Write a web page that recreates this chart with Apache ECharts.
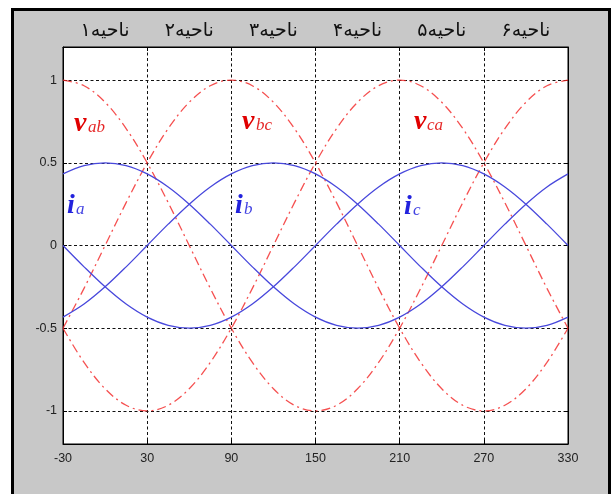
<!DOCTYPE html>
<html>
<head>
<meta charset="utf-8">
<script src="https://cdn.jsdelivr.net/npm/echarts@6/dist/echarts.min.js"></script>
<style>
  html, body { margin: 0; padding: 0; background: #fff; }
  #frame { position: absolute; left: 11px; top: 8px; width: 594px; height: 500px;
           background: #c8c8c8; border: 3px solid #000; border-bottom: none; }
  #chart { position: absolute; left: 0; top: 0; width: 616px; height: 494px; }
</style>
</head>
<body>
<div id="frame"></div>
<div id="chart"></div>
<script>
// angle (degrees)
const angles = [-30,-15,0,15,30,45,60,75,90,105,120,135,150,165,180,195,210,225,240,255,270,285,300,315,330];
// line voltages
const vab = [1,0.966,0.866,0.707,0.5,0.259,0,-0.259,-0.5,-0.707,-0.866,-0.966,-1,-0.966,-0.866,-0.707,-0.5,-0.259,0,0.259,0.5,0.707,0.866,0.966,1];
const vbc = [-0.5,-0.259,0,0.259,0.5,0.707,0.866,0.966,1,0.966,0.866,0.707,0.5,0.259,0,-0.259,-0.5,-0.707,-0.866,-0.966,-1,-0.966,-0.866,-0.707,-0.5];
const vca = [-0.5,-0.707,-0.866,-0.966,-1,-0.966,-0.866,-0.707,-0.5,-0.259,0,0.259,0.5,0.707,0.866,0.966,1,0.966,0.866,0.707,0.5,0.259,0,-0.259,-0.5];
// phase currents
const ia = [0.433,0.483,0.5,0.483,0.433,0.354,0.25,0.129,0,-0.129,-0.25,-0.354,-0.433,-0.483,-0.5,-0.483,-0.433,-0.354,-0.25,-0.129,0,0.129,0.25,0.354,0.433];
const ib = [-0.433,-0.354,-0.25,-0.129,0,0.129,0.25,0.354,0.433,0.483,0.5,0.483,0.433,0.354,0.25,0.129,0,-0.129,-0.25,-0.354,-0.433,-0.483,-0.5,-0.483,-0.433];
const ic = [0,-0.129,-0.25,-0.354,-0.433,-0.483,-0.5,-0.483,-0.433,-0.354,-0.25,-0.129,0,0.129,0.25,0.354,0.433,0.483,0.5,0.483,0.433,0.354,0.25,0.129,0];
// ticks
const xTicks = [-30,30,90,150,210,270,330];
const yTicks = [-1,-0.5,0,0.5,1];
// region labels (centres of each 60° interval)
const regionNames = ['ناحیه۱','ناحیه۲','ناحیه۳','ناحیه۴','ناحیه۵','ناحیه۶'];
const regionCentres = [0,60,120,180,240,300];

const pair = (ys) => angles.map((a, i) => [a, ys[i]]);

const RED = '#f22424', BLUE = '#4848dc';
const gridLine = { show: true, lineStyle: { color: '#111', width: 1, type: [3, 2.5] } };
const axisFont = { fontFamily: 'Liberation Sans, Arial, sans-serif', fontSize: 12.5, color: '#222' };
const axLine = { show: true, onZero: false, lineStyle: { color: '#000', width: 1 } };

const chart = echarts.init(document.getElementById('chart'), null, { renderer: 'canvas' });

function redSeries(name, ys) {
  return { name, type: 'line', data: pair(ys), smooth: 0.35, symbol: 'none',
           lineStyle: { color: RED, width: 1.3, type: [9, 4, 2, 4], opacity: 0.8 }, z: 3 };
}
function blueSeries(name, ys) {
  return { name, type: 'line', data: pair(ys), smooth: 0.35, symbol: 'none',
           lineStyle: { color: BLUE, width: 1.3 }, z: 4 };
}

chart.setOption({
  animation: false,
  backgroundColor: 'transparent',
  grid: { left: 63, top: 47, width: 505, height: 397, show: true,
          backgroundColor: '#fff', borderColor: '#000', borderWidth: 1 },
  xAxis: [{
    type: 'value', min: -30, max: 330, position: 'bottom',
    axisLine: axLine,
    axisTick: { show: true, inside: true, length: 4, customValues: xTicks, lineStyle: { color: '#000' } },
    axisLabel: Object.assign({ customValues: xTicks, margin: 8 }, axisFont),
    splitLine: gridLine
  }, {
    type: 'value', min: -30, max: 330, position: 'top',
    axisLine: axLine,
    axisTick: { show: true, inside: true, length: 4, customValues: xTicks, lineStyle: { color: '#000' } },
    axisLabel: { show: false }, splitLine: { show: false }
  }],
  yAxis: [{
    type: 'value', min: -1.2, max: 1.2, position: 'left',
    axisLine: axLine,
    axisTick: { show: true, inside: true, length: 4, customValues: yTicks, lineStyle: { color: '#000' } },
    axisLabel: Object.assign({ customValues: yTicks, margin: 6 }, axisFont),
    splitLine: gridLine
  }, {
    type: 'value', min: -1.2, max: 1.2, position: 'right',
    axisLine: axLine,
    axisTick: { show: true, inside: true, length: 4, customValues: yTicks, lineStyle: { color: '#000' } },
    axisLabel: { show: false }, splitLine: { show: false }
  }],
  series: [
    redSeries('vab', vab), redSeries('vbc', vbc), redSeries('vca', vca),
    blueSeries('ia', ia), blueSeries('ib', ib), blueSeries('ic', ic)
  ]
});

// annotation labels
const gfx = [];
regionNames.forEach((name, i) => {
  const px = chart.convertToPixel({ xAxisIndex: 0 }, regionCentres[i]);
  gfx.push({ type: 'text', x: px, y: 31, z: 10,
    style: { text: name, fontFamily: 'DejaVu Sans, sans-serif', fontSize: 19, fill: '#111',
             align: 'center', verticalAlign: 'middle' } });
});
function sym(main, sub, x, y, color, dx) {
  gfx.push({ type: 'text', x: x, y: y, z: 10,
    style: { text: main, fontFamily: 'Liberation Serif, Times New Roman, serif', fontSize: 28,
             fontWeight: 'bold', fontStyle: 'italic', fill: color, align: 'left', verticalAlign: 'alphabetic' } });
  gfx.push({ type: 'text', x: x + dx, y: y + 9, z: 10,
    style: { text: sub, fontFamily: 'Liberation Serif, Times New Roman, serif', fontSize: 17,
             fontStyle: 'italic', fill: color, opacity: 0.85, align: 'left', verticalAlign: 'alphabetic' } });
}
sym('v', 'ab', 74, 110, '#e00000', 14);
sym('v', 'bc', 242, 108, '#e00000', 14);
sym('v', 'ca', 414, 108, '#e00000', 13);
sym('i', 'a', 67, 192, '#2222dd', 9);
sym('i', 'b', 235, 192, '#2222dd', 9);
sym('i', 'c', 404, 193, '#2222dd', 9);
chart.setOption({ graphic: gfx });
</script>
</body>
</html>
